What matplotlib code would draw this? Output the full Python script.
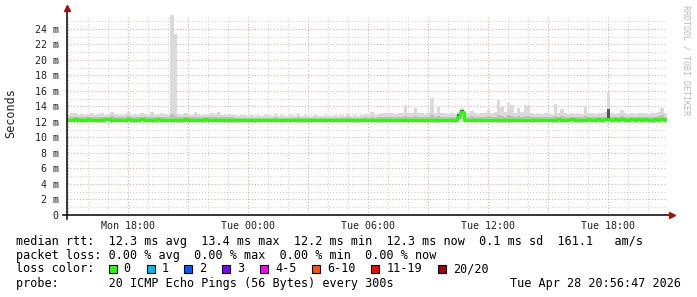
import numpy as np
import matplotlib
matplotlib.use("Agg")
import matplotlib.pyplot as plt
from matplotlib.patches import Rectangle
from datetime import datetime, timedelta

# 10 minute steps over the 30 hour window
start = datetime(2026, 4, 27, 14, 56, 47)
step_min = 10

median = [
    12.3, 12.3, 12.4, 12.3, 12.3, 12.3, 12.4, 12.3, 12.3, 12.3,
    12.3, 12.4, 12.4, 12.3, 12.3, 12.3, 12.3, 12.3, 12.4, 12.3,
    12.3, 12.3, 12.4, 12.3, 12.3, 12.3, 12.3, 12.4, 12.3, 12.3,
    12.3, 12.3, 12.3, 12.3, 12.3, 12.4, 12.3, 12.3, 12.3, 12.3,
    12.3, 12.4, 12.3, 12.3, 12.3, 12.3, 12.3, 12.3, 12.3, 12.3,
    12.3, 12.3, 12.3, 12.3, 12.3, 12.3, 12.3, 12.3, 12.3, 12.3,
    12.3, 12.3, 12.3, 12.3, 12.3, 12.3, 12.3, 12.3, 12.3, 12.3,
    12.3, 12.3, 12.3, 12.3, 12.3, 12.3, 12.3, 12.3, 12.3, 12.3,
    12.3, 12.3, 12.3, 12.3, 12.3, 12.3, 12.3, 12.3, 12.3, 12.3,
    12.2, 12.2, 12.2, 12.3, 12.3, 12.3, 12.3, 12.3, 12.3, 12.3,
    12.3, 12.2, 12.3, 12.3, 12.2, 12.3, 12.3, 12.3, 12.3, 12.3,
    12.3, 12.3, 12.3, 12.3, 12.3, 12.3, 12.3, 12.6, 13.3, 12.3,
    12.3, 12.3, 12.3, 12.3, 12.3, 12.3, 12.3, 12.3, 12.3, 12.3,
    12.3, 12.3, 12.3, 12.3, 12.3, 12.3, 12.3, 12.3, 12.3, 12.3,
    12.3, 12.3, 12.3, 12.3, 12.3, 12.3, 12.3, 12.4, 12.3, 12.3,
    12.3, 12.4, 12.3, 12.3, 12.3, 12.3, 12.4, 12.3, 12.3, 12.4,
    12.3, 12.4, 12.4, 12.3, 12.4, 12.3, 12.4, 12.3, 12.3, 12.4,
    12.3, 12.4, 12.3, 12.4, 12.3, 12.3, 12.4, 12.3, 12.4, 12.3,
]

smoke_hi = [
    12.9, 13.1, 13.1, 12.9, 13.0, 12.9, 13.0, 13.2, 12.9, 13.0,
    13.2, 12.9, 13.0, 13.3, 13.0, 12.9, 12.9, 13.0, 13.3, 12.9,
    13.0, 12.9, 13.2, 13.0, 12.9, 13.3, 13.0, 12.9, 13.2, 13.0,
    12.9, 25.8, 23.4, 13.0, 12.9, 13.2, 13.0, 12.9, 13.3, 13.0,
    12.9, 13.0, 12.9, 13.2, 13.0, 13.3, 12.9, 12.9, 13.0, 12.9,
    12.9, 12.8, 12.9, 12.9, 12.8, 12.9, 12.8, 12.9, 12.8, 12.9,
    12.9, 12.8, 13.0, 12.8, 12.9, 12.8, 12.8, 12.9, 12.8, 13.0,
    12.8, 12.9, 12.8, 12.8, 12.9, 12.8, 12.8, 12.9, 12.8, 12.8,
    12.9, 12.8, 12.9, 12.8, 13.0, 12.8, 12.9, 12.8, 12.9, 13.0,
    12.9, 13.3, 12.9, 13.0, 13.2, 13.1, 13.2, 13.1, 13.0, 13.2,
    13.1, 14.2, 13.2, 13.1, 13.8, 13.1, 13.2, 13.0, 13.2, 15.1,
    13.2, 13.9, 13.2, 13.1, 13.0, 13.1, 13.0, 13.3, 13.8, 13.2,
    13.1, 13.4, 13.2, 13.0, 13.1, 13.2, 13.5, 13.2, 13.3, 14.8,
    13.9, 13.3, 14.5, 14.2, 13.2, 13.8, 13.3, 14.2, 14.1, 13.1,
    13.0, 13.1, 13.0, 13.2, 13.1, 13.0, 14.3, 13.2, 13.7, 13.1,
    13.0, 13.1, 13.0, 13.1, 13.0, 14.0, 13.2, 13.1, 13.0, 13.1,
    13.1, 13.3, 15.9, 13.1, 13.0, 13.2, 13.5, 13.1, 13.0, 13.1,
    13.0, 13.1, 13.2, 13.1, 13.0, 13.1, 13.2, 13.3, 13.8, 13.2,
]

smoke_mid = [
    12.6, 12.7, 12.7, 12.6, 12.6, 12.6, 12.7, 12.7, 12.6, 12.6,
    12.7, 12.6, 12.7, 12.8, 12.6, 12.6, 12.6, 12.6, 12.8, 12.6,
    12.6, 12.6, 12.7, 12.6, 12.6, 12.7, 12.6, 12.6, 12.7, 12.6,
    12.6, 13.0, 12.8, 12.6, 12.6, 12.7, 12.6, 12.6, 12.7, 12.6,
    12.6, 12.6, 12.6, 12.7, 12.6, 12.7, 12.6, 12.6, 12.6, 12.6,
    12.5, 12.5, 12.5, 12.5, 12.5, 12.5, 12.5, 12.5, 12.5, 12.5,
    12.5, 12.5, 12.6, 12.5, 12.5, 12.5, 12.5, 12.5, 12.5, 12.6,
    12.5, 12.5, 12.5, 12.5, 12.5, 12.5, 12.5, 12.5, 12.5, 12.5,
    12.5, 12.5, 12.5, 12.5, 12.6, 12.5, 12.5, 12.5, 12.5, 12.6,
    12.5, 12.7, 12.5, 12.6, 12.7, 12.6, 12.7, 12.6, 12.6, 12.7,
    12.6, 12.8, 12.7, 12.6, 12.8, 12.6, 12.7, 12.6, 12.7, 12.9,
    12.7, 12.8, 12.7, 12.6, 12.6, 12.6, 12.6, 12.9, 13.4, 12.7,
    12.6, 12.8, 12.7, 12.6, 12.6, 12.7, 12.8, 12.7, 12.7, 12.9,
    12.8, 12.7, 12.9, 12.8, 12.7, 12.8, 12.7, 12.8, 12.8, 12.6,
    12.6, 12.6, 12.6, 12.7, 12.6, 12.6, 12.8, 12.7, 12.8, 12.6,
    12.6, 12.6, 12.6, 12.6, 12.6, 12.8, 12.7, 12.6, 12.6, 12.6,
    12.6, 12.7, 13.0, 12.6, 12.6, 12.7, 12.8, 12.6, 12.6, 12.6,
    12.6, 12.6, 12.7, 12.6, 12.6, 12.7, 12.7, 12.8, 12.9, 12.7,
]

# dense patches of pings (dark smoke)
dark_idx = [117, 118, 162]
dark_top = [13.0, 13.5, 13.7]

loss_labels = ["0", "1", "2", "3", "4-5", "6-10", "11-19", "20/20"]
loss_colors = ["#26ff00", "#00b8ff", "#0059ff", "#7e00ff", "#ff00ff",
               "#ff5500", "#ff0000", "#a00000"]

x_tick_labels = ["Mon 18:00", "Tue 00:00", "Tue 06:00", "Tue 12:00", "Tue 18:00"]
x_tick_times = [datetime(2026, 4, 27, 18), datetime(2026, 4, 28, 0),
                datetime(2026, 4, 28, 6), datetime(2026, 4, 28, 12),
                datetime(2026, 4, 28, 18)]

legend_rtt = "median rtt:  12.3 ms avg  13.4 ms max  12.2 ms min  12.3 ms now  0.1 ms sd  161.1   am/s"
legend_loss = "packet loss: 0.00 % avg  0.00 % max  0.00 % min  0.00 % now"
legend_probe = "probe:       20 ICMP Echo Pings (56 Bytes) every 300s"
stamp = "Tue Apr 28 20:56:47 2026"

MONO = "DejaVu Sans Mono"
W, H = 697, 297


def hours(t):
    return (t - start).total_seconds() / 3600.0


n = len(median)
xs = np.arange(n + 1) * step_min / 60.0
med = np.append(median, median[-1])
hi = np.append(smoke_hi, smoke_hi[-1])
mid = np.append(smoke_mid, smoke_mid[-1])

fig = plt.figure(figsize=(W / 100, H / 100), dpi=100)
fig.patch.set_facecolor("white")
ax = fig.add_axes([67 / W, 82 / H, 600 / W, 200 / H])
ax.set_facecolor("white")

# grid: minor every hour / 1 ms, major every 3 hours / 2 ms
total_h = 30.0
first_h = hours(datetime(2026, 4, 27, 15))
for k in range(31):
    hx = first_h + k
    if hx > total_h:
        break
    major = (k % 3 == 0)
    ax.axvline(hx, color="#e6a0a0" if major else "#cfcfcf", lw=0.75,
               ls=(0, (1, 2)), zorder=0)
for v in range(1, 26):
    ax.axhline(v, color="#e6a0a0" if v % 2 == 0 else "#cfcfcf", lw=0.75,
               ls=(0, (1, 2)), zorder=0)

# smoke
ax.fill_between(xs, med, hi, step="post", color="#dadada", lw=0, zorder=1)
ax.fill_between(xs, med, mid, step="post", color="#bdbdbd", lw=0, zorder=2)
for i, top in zip(dark_idx, dark_top):
    ax.fill_between([xs[i], xs[i + 1]], [median[i] - 0.2] * 2, [top] * 2,
                    color="#555555", lw=0, zorder=3)

# median line
ax.step(xs, med, where="post", color="#26ff00", lw=2.2, zorder=4)

ax.set_xlim(0, total_h)
ax.set_ylim(0, 25.8)

ax.set_yticks(range(0, 25, 2))
ax.set_yticklabels(["0"] + ["%d m" % v for v in range(2, 25, 2)])
ax.set_xticks([hours(t) for t in x_tick_times])
ax.set_xticklabels(x_tick_labels)
ax.tick_params(length=0, labelsize=7.2, colors="#222222")
ax.tick_params(axis="y", pad=6)
ax.tick_params(axis="x", pad=4)
for lab in ax.get_xticklabels() + ax.get_yticklabels():
    lab.set_family(MONO)

for s in ["top", "right", "left", "bottom"]:
    ax.spines[s].set_visible(False)

# axes with arrows
ax.plot([-4 / 600, 1.006], [0, 0], transform=ax.transAxes, color="black",
        lw=1.1, clip_on=False, zorder=5)
ax.plot([0, 0], [-4 / 200, 1.03], transform=ax.transAxes, color="black",
        lw=1.1, clip_on=False, zorder=5)
ax.plot([1.009], [0], transform=ax.transAxes, marker=">", ms=4.5,
        color="#a01010", clip_on=False, zorder=6)
ax.plot([0], [1.035], transform=ax.transAxes, marker="^", ms=4.5,
        color="#a01010", clip_on=False, zorder=6)

fig.text(11 / W, 1 - 113 / H, "Seconds", rotation=90, ha="center",
         va="center", family=MONO, fontsize=8.5, color="#222222")
fig.text(686 / W, 1 - 5 / H, "RRDTOOL / TOBI OETIKER", rotation=270,
         ha="center", va="top", family=MONO, fontsize=6, color="#b8b8b8")

# legend block
cw = 7.13
x0 = 16
fig.text(x0 / W, 1 - 241 / H, legend_rtt, family=MONO, fontsize=8.5,
         va="center", color="black")
fig.text(x0 / W, 1 - 255.5 / H, legend_loss, family=MONO, fontsize=8.5,
         va="center", color="black")
fig.text(x0 / W, 1 - 269 / H, "loss color:", family=MONO, fontsize=8.5,
         va="center", color="black")
fig.text(x0 / W, 1 - 283.5 / H, legend_probe, family=MONO, fontsize=8.5,
         va="center", color="black")
fig.text(681 / W, 1 - 283.5 / H, stamp, family=MONO, fontsize=8.5,
         va="center", ha="right", color="black")

bx = x0 + 13 * cw
for lab, col in zip(loss_labels, loss_colors):
    fig.patches.append(Rectangle((bx / W, 1 - 272.5 / H), 8 / W, 8 / H,
                                 transform=fig.transFigure, facecolor=col,
                                 edgecolor="black", lw=0.8))
    fig.text((bx + 15) / W, 1 - 269 / H, lab, family=MONO, fontsize=8.5,
             va="center", color="black")
    bx = bx + 15 + len(lab) * cw + 15.7

fig.savefig("out.png", dpi=100)
